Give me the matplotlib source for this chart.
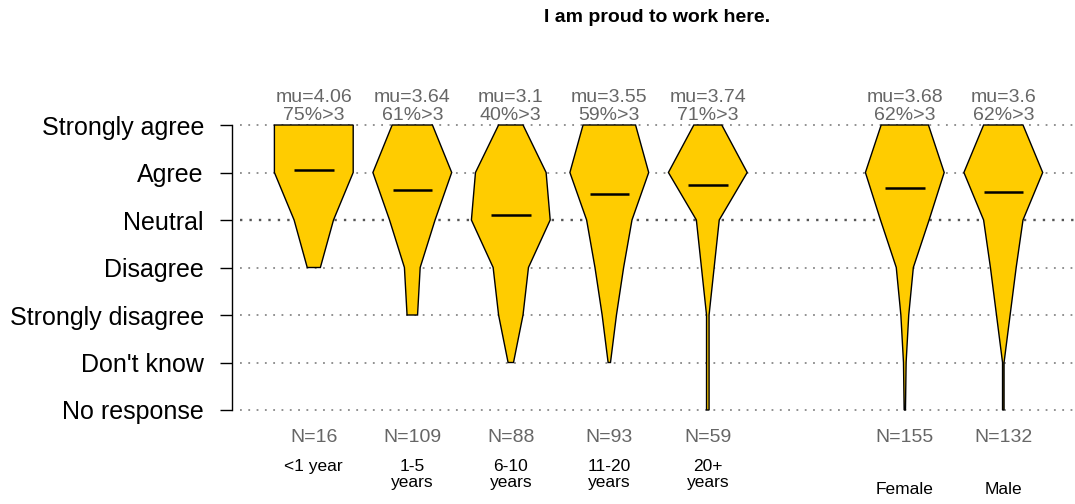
import numpy as np
import matplotlib
matplotlib.use("Agg")
import matplotlib.pyplot as plt

plt.rcParams['font.family'] = ['Liberation Sans', 'DejaVu Sans']

# answer levels, top to bottom, and their scores
levels = ['Strongly agree', 'Agree', 'Neutral', 'Disagree',
          'Strongly disagree', "Don't know", 'No response']
scores = [5, 4, 3, 2, 1, 0, -1]

# tenure groups
tenure_labels = ['<1 year', '1-5\nyears', '6-10\nyears', '11-20\nyears', '20+\nyears']
tenure_counts = [
    [6, 6, 3, 1, 0, 0, 0],
    [23, 45, 26, 9, 6, 0, 0],
    [9, 26, 29, 13, 9, 2, 0],
    [22, 33, 19, 12, 6, 1, 0],
    [11, 31, 9, 5, 1, 1, 1],
]
tenure_mu = ['4.06', '3.64', '3.1', '3.55', '3.74']
tenure_pct = [75, 61, 40, 59, 71]
tenure_n = [16, 109, 88, 93, 59]

# gender groups
gender_labels = ['Female', 'Male']
gender_counts = [
    [36, 60, 37, 13, 6, 2, 1],
    [26, 52, 26, 17, 9, 1, 1],
]
gender_mu = ['3.68', '3.6']
gender_pct = [62, 62]
gender_n = [155, 132]

title = 'I am proud to work here.'

FILL = '#FFCC00'
GREY_TXT = '#666666'


def draw_violin(ax, x, counts, mu, max_half=0.4):
    counts = np.asarray(counts, dtype=float)
    ys = np.asarray(scores, dtype=float)
    nz = np.nonzero(counts)[0]
    sl = slice(nz.min(), nz.max() + 1)
    w = counts[sl] / counts.max() * max_half
    y = ys[sl]
    xs = np.concatenate([x + w, (x - w)[::-1]])
    yy = np.concatenate([y, y[::-1]])
    ax.fill(xs, yy, facecolor=FILL, edgecolor='black', linewidth=1.0, zorder=3)
    ax.plot([x - 0.2, x + 0.2], [mu, mu], color='black', linewidth=1.8,
            solid_capstyle='butt', zorder=4)


fig = plt.figure(figsize=(10.75, 5.04), dpi=100)
ax = fig.add_axes([240 / 1075, 84 / 504, 835 / 1075, 305 / 504])

px_unit_x = 98.5
px_unit_y = 47.5
ax.set_xlim(1 - (313.8 - 240) / px_unit_x, 1 + (1075 - 313.8) / px_unit_x)
ax.set_ylim(-1 - 10 / px_unit_y, 5 + 10 / px_unit_y)

# dotted guide lines
for s in scores:
    if s == 3:
        ax.axhline(s, color='#555555', linewidth=1.7, linestyle=(0, (1, 3.0)), zorder=1)
    else:
        ax.axhline(s, color='#888888', linewidth=1.3, linestyle=(0, (1, 3.6)), zorder=1)

positions = list(range(1, len(tenure_labels) + 1))
gpositions = [positions[-1] + 2 + i for i in range(len(gender_labels))]

groups = [
    (positions, tenure_counts, tenure_mu, tenure_pct, tenure_n, tenure_labels, -2.03),
    (gpositions, gender_counts, gender_mu, gender_pct, gender_n, gender_labels, -2.52),
]
for pos, counts, mus, pcts, ns, labels, ylab in groups:
    for x, c, m, p, n, lab in zip(pos, counts, mus, pcts, ns, labels):
        draw_violin(ax, x, c, float(m))
        ax.text(x, 5.57, 'mu=' + m, ha='center', va='center', fontsize=14, color=GREY_TXT)
        ax.text(x, 5.19, '%d%%>3' % p, ha='center', va='center', fontsize=14, color=GREY_TXT)
        ax.text(x, -1.57, 'N=%d' % n, ha='center', va='center', fontsize=14, color=GREY_TXT)
        ax.text(x, ylab, lab, ha='center', va='top', fontsize=12.5, color='black',
                linespacing=1.1)

# R-style y axis
for side in ['top', 'right', 'bottom']:
    ax.spines[side].set_visible(False)
ax.spines['left'].set_position(('outward', 6))
ax.spines['left'].set_bounds(-1, 5)
ax.spines['left'].set_linewidth(1.0)
ax.set_yticks(scores)
ax.set_yticklabels(levels, fontsize=18)
ax.tick_params(axis='y', length=9, width=1.0, pad=11)
ax.set_xticks([])

fig.text(657.5 / 1075, 1 - 18 / 504, title, ha='center', va='center',
         fontsize=14, fontweight='bold')

fig.savefig('out.png', dpi=100)
